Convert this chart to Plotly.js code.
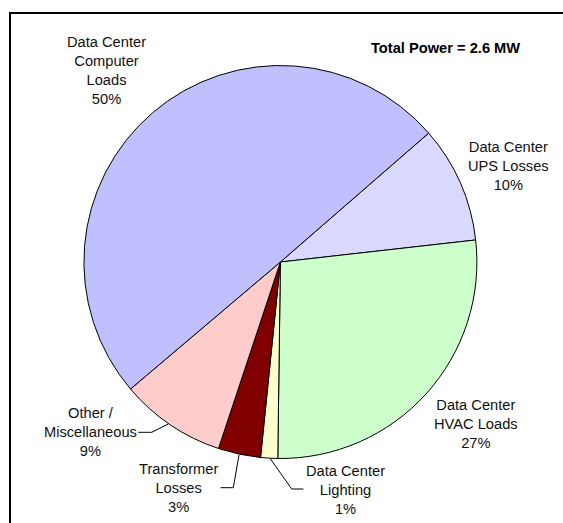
<!DOCTYPE html>
<html>
<head>
<meta charset="utf-8">
<script src="https://cdn.plot.ly/plotly-3.0.1.min.js"></script>
<style>html,body{margin:0;padding:0;background:#fff;}#chart{width:563px;height:523px;}</style>
</head>
<body>
<div id="chart"></div>
<script>
// ---- data ----
var categories = ["Data Center<br>UPS Losses", "Data Center<br>HVAC Loads", "Data Center<br>Lighting", "Transformer<br>Losses", "Other /<br>Miscellaneous", "Data Center<br>Computer<br>Loads"];
var shares = [9.6, 27.0, 1.4, 3.49, 8.71, 49.8];
var sliceColors = ["#D9D9FF", "#CCFFCC", "#FFFFCC", "#800000", "#FFCCCC", "#C0C0FF"];
var chartTitle = "Total Power = 2.6 MW";

// ---- layout helpers (pixel -> paper) ----
var W = 563, H = 523;
function px(x) { return x / W; }
function py(y) { return 1 - y / H; }

var cx = 280.4, cy = 262, R = 196.5;

// label centers in pixels, same order as categories
var labelPos = [[508, 165.7], [476.3, 424], [345.7, 490], [178.8, 487.5], [90.5, 432], [106.2, 70]];

var total = shares.reduce(function (a, b) { return a + b; }, 0);
var font = {family: "Liberation Sans, Arial, sans-serif", size: 14.67, color: "#111"};

var annotations = categories.map(function (c, i) {
  return {
    xref: "paper", yref: "paper",
    x: px(labelPos[i][0]), y: py(labelPos[i][1]),
    xanchor: "center", yanchor: "middle",
    text: c + "<br>" + Math.round(shares[i] / total * 100) + "%",
    showarrow: false, font: font, align: "center"
  };
});
annotations.push({
  xref: "paper", yref: "paper", x: px(445.3), y: py(48.3),
  xanchor: "center", yanchor: "middle", showarrow: false,
  text: "<b>" + chartTitle + "</b>",
  font: {family: "Liberation Sans, Arial, sans-serif", size: 14.67, color: "#000"}
});

function pathPx(pts) {
  return pts.map(function (p, i) {
    return (i ? "L" : "M") + px(p[0]) + "," + py(p[1]);
  }).join(" ");
}
var leaderStyle = {color: "#000", width: 1};
var shapes = [
  // frame
  {type: "line", xref: "paper", yref: "paper", x0: px(9), x1: px(563), y0: py(13), y1: py(13), line: {color: "#000", width: 2}},
  {type: "line", xref: "paper", yref: "paper", x0: px(10), x1: px(10), y0: py(12), y1: py(523), line: {color: "#000", width: 2}},
  // leader lines
  {type: "path", xref: "paper", yref: "paper", path: pathPx([[138.3, 432.3], [151.7, 432.3], [168.3, 424]]), line: leaderStyle},
  {type: "path", xref: "paper", yref: "paper", path: pathPx([[220.7, 487.7], [233.3, 487.7], [239, 455]]), line: leaderStyle},
  {type: "path", xref: "paper", yref: "paper", path: pathPx([[270, 458.3], [291.7, 489], [303.3, 489]]), line: leaderStyle}
];

var trace = {
  type: "pie",
  labels: categories,
  values: shares,
  sort: false,
  direction: "clockwise",
  rotation: 49,
  textinfo: "none",
  hoverinfo: "label+percent",
  marker: {colors: sliceColors, line: {color: "#000", width: 1}},
  domain: {x: [px(cx - R), px(cx + R)], y: [py(cy + R), py(cy - R)]}
};

var layout = {
  width: W, height: H,
  margin: {l: 0, r: 0, t: 0, b: 0},
  showlegend: false,
  paper_bgcolor: "#fff",
  annotations: annotations,
  shapes: shapes
};

Plotly.newPlot("chart", [trace], layout, {displayModeBar: false, staticPlot: true});
</script>
</body>
</html>
